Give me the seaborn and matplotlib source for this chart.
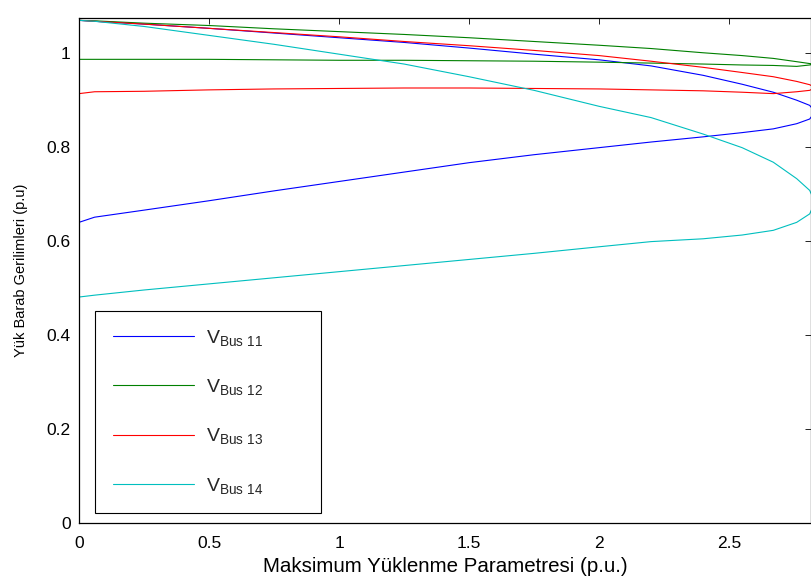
import numpy as np
import pandas as pd
import matplotlib
matplotlib.use("Agg")
import matplotlib.pyplot as plt
import seaborn as sns
from matplotlib.lines import Line2D

# ---- data ----
lam_grid = [0, 0.06, 0.25, 0.5, 0.75, 1.0, 1.25, 1.5, 1.75, 2.0, 2.2, 2.4, 2.55, 2.67, 2.76, 2.81]
lam_nose = 2.83

bus_names = ["Bus 11", "Bus 12", "Bus 13", "Bus 14"]

bus11_upper = [1.070, 1.068, 1.062, 1.053, 1.043, 1.033, 1.023, 1.011, 0.998, 0.986, 0.973, 0.953, 0.934, 0.917, 0.900, 0.889]
bus11_nose = 0.875
bus11_lower = [0.640, 0.651, 0.666, 0.686, 0.707, 0.727, 0.747, 0.767, 0.784, 0.799, 0.811, 0.822, 0.831, 0.839, 0.850, 0.860]

bus12_upper = [1.070, 1.069, 1.064, 1.059, 1.052, 1.046, 1.040, 1.033, 1.025, 1.017, 1.010, 1.001, 0.995, 0.989, 0.982, 0.978]
bus12_nose = 0.977
bus12_lower = [0.987, 0.987, 0.987, 0.987, 0.986, 0.985, 0.985, 0.984, 0.983, 0.981, 0.979, 0.977, 0.975, 0.974, 0.972, 0.975]

bus13_upper = [1.070, 1.068, 1.062, 1.053, 1.044, 1.035, 1.025, 1.016, 1.006, 0.995, 0.983, 0.970, 0.959, 0.950, 0.940, 0.933]
bus13_nose = 0.927
bus13_lower = [0.914, 0.918, 0.919, 0.922, 0.924, 0.925, 0.926, 0.926, 0.925, 0.924, 0.922, 0.920, 0.917, 0.914, 0.918, 0.921]

bus14_upper = [1.070, 1.068, 1.057, 1.038, 1.019, 0.998, 0.977, 0.950, 0.921, 0.887, 0.863, 0.828, 0.799, 0.768, 0.733, 0.708]
bus14_nose = 0.683
bus14_lower = [0.481, 0.485, 0.496, 0.509, 0.522, 0.535, 0.548, 0.561, 0.574, 0.588, 0.599, 0.605, 0.613, 0.623, 0.640, 0.658]

bus_colors = ["#0000ff", "#008000", "#ff0000", "#00bfbf"]

x_ticks = [0, 0.5, 1, 1.5, 2, 2.5]
x_tick_labels = ["0", "0.5", "1", "1.5", "2", "2.5"]
y_ticks = [0, 0.2, 0.4, 0.6, 0.8, 1.0]
y_tick_labels = ["0", "0.2", "0.4", "0.6", "0.8", "1"]

x_label = "Maksimum Yüklenme Parametresi (p.u.)"
y_label = "Yük Barab Gerilimleri (p.u)"

# ---- build long-form table ----
uppers = [bus11_upper, bus12_upper, bus13_upper, bus14_upper]
noses = [bus11_nose, bus12_nose, bus13_nose, bus14_nose]
lowers = [bus11_lower, bus12_lower, bus13_lower, bus14_lower]

rows = []
for name, up, nz, lo in zip(bus_names, uppers, noses, lowers):
    lam_path = list(lam_grid) + [lam_nose] + list(lam_grid[::-1])
    v_path = list(up) + [nz] + list(lo[::-1])
    for i, (l, v) in enumerate(zip(lam_path, v_path)):
        rows.append({"bus": name, "step": i, "lam": l, "V": v})
df = pd.DataFrame(rows)

# ---- plot ----
sns.set_theme(style="white")
plt.rcParams["font.family"] = ["Liberation Sans", "DejaVu Sans"]
plt.rcParams["mathtext.fontset"] = "custom"
plt.rcParams["mathtext.rm"] = "Liberation Sans"
plt.rcParams["mathtext.it"] = "Liberation Sans"

fig = plt.figure(figsize=(8.11, 5.81), dpi=100)
ax = fig.add_axes([79 / 811, 1 - 523 / 581, 732 / 811, 505 / 581])

palette = dict(zip(bus_names, bus_colors))
sns.lineplot(data=df, x="lam", y="V", hue="bus", palette=palette, sort=False,
             estimator=None, units="bus", linewidth=0.8, ax=ax, legend=False)

ax.set_xlim(0, 2.815)
ax.set_ylim(0, 1.075)
ax.set_xticks(x_ticks)
ax.set_xticklabels(x_tick_labels)
ax.set_yticks(y_ticks)
ax.set_yticklabels(y_tick_labels)
ax.tick_params(direction="in", length=4, width=0.6, top=True, right=True,
               labelsize=12.5, colors="black")
ax.tick_params(axis="y", pad=6)
ax.tick_params(axis="x", pad=9)
for s in ax.spines.values():
    s.set_visible(True)
    s.set_color("black")
    s.set_linewidth(0.9)

ax.set_xlabel(x_label, fontsize=14.8, labelpad=5, color="black")
ax.set_ylabel(y_label, fontsize=10.5, labelpad=13, color="black")

handles = [Line2D([], [], color=c, lw=0.8) for c in bus_colors]
labels = [r"$\mathrm{V_{Bus\ %s}}$" % n.split()[1] for n in bus_names]
x0, y0 = 0.0219, 0.0198
w = (321 - 95) / 732
leg = ax.legend(handles, labels, loc="lower left",
                bbox_to_anchor=(x0, y0, w, 0.4), mode="expand", borderaxespad=0,
                fontsize=14, handlelength=4.2, handletextpad=0.6,
                labelspacing=1.5, borderpad=0.9, frameon=True,
                fancybox=False, framealpha=1, edgecolor="black")
leg.get_frame().set_linewidth(0.8)

fig.savefig("out.png", dpi=100)
